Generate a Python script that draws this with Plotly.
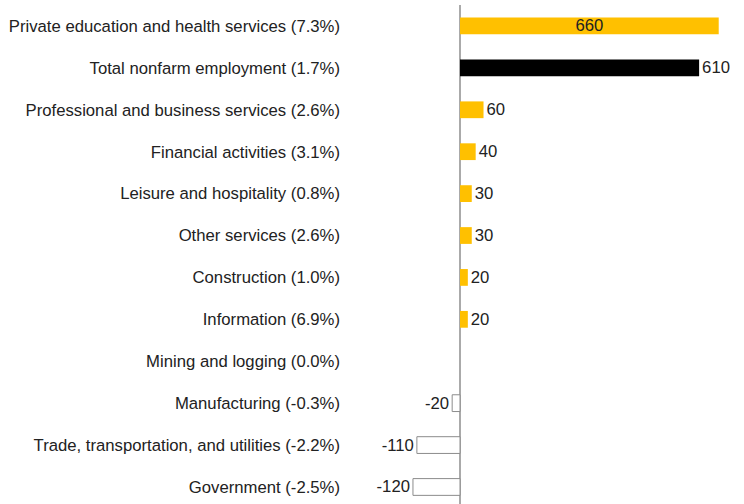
import plotly.graph_objects as go

categories = [
    "Private education and health services (7.3%)",
    "Total nonfarm employment (1.7%)",
    "Professional and business services (2.6%)",
    "Financial activities (3.1%)",
    "Leisure and hospitality (0.8%)",
    "Other services (2.6%)",
    "Construction (1.0%)",
    "Information (6.9%)",
    "Mining and logging (0.0%)",
    "Manufacturing (-0.3%)",
    "Trade, transportation, and utilities (-2.2%)",
    "Government (-2.5%)",
]
values = [660, 610, 60, 40, 30, 30, 20, 20, 0, -20, -110, -120]

YELLOW = "#FFC000"
FONT = "Liberation Sans, Arial, sans-serif"
FS = 16.7
fills = []
lines = []
lwidths = []
for c, v in zip(categories, values):
    if c.startswith("Total"):
        fills.append("#000000"); lines.append("#000000"); lwidths.append(0)
    elif v < 0:
        fills.append("#FFFFFF"); lines.append("#8C8C8C"); lwidths.append(1)
    else:
        fills.append(YELLOW); lines.append(YELLOW); lwidths.append(0)

texts = ["" if v == 0 else str(v) for v in values]
positions = ["inside" if v >= 300 and not c.startswith("Total") else "outside"
             for c, v in zip(categories, values)]

ypos = list(range(len(categories)))

L = 341
fig = go.Figure(go.Bar(
    x=values, y=ypos, orientation="h", width=0.4,
    marker=dict(color=fills, line=dict(color=lines, width=lwidths)),
    text=texts, textposition=positions, insidetextanchor="middle",
    textangle=0, constraintext="none",
    textfont=dict(family=FONT, size=FS, color="#222222"),
    insidetextfont=dict(family=FONT, size=FS, color="#222222"),
    outsidetextfont=dict(family=FONT, size=FS, color="#222222"),
    cliponaxis=False,
))

fig.update_layout(
    width=744, height=504,
    margin=dict(l=L, r=0, t=5, b=0),
    paper_bgcolor="white", plot_bgcolor="white",
    showlegend=False,
    font=dict(family=FONT, size=FS, color="#222222"),
)
scale = 0.392
fig.update_xaxes(range=[-(460 - L) / scale, (744 - 460) / scale], showgrid=False,
                 showticklabels=False, automargin=False,
                 zeroline=True, zerolinecolor="#AAAAAA", zerolinewidth=1.5,
                 showline=False, ticks="")
fig.update_yaxes(range=[11.406, -0.5], tickmode="array", tickvals=ypos,
                 ticktext=categories, showgrid=False, zeroline=False, automargin=False,
                 showline=False, ticks="", tickfont=dict(family=FONT, size=FS, color="#222222"))

fig.write_html("out.html", config={"displayModeBar": False},
               post_script="document.body.style.margin='0';document.body.style.padding='0';")
